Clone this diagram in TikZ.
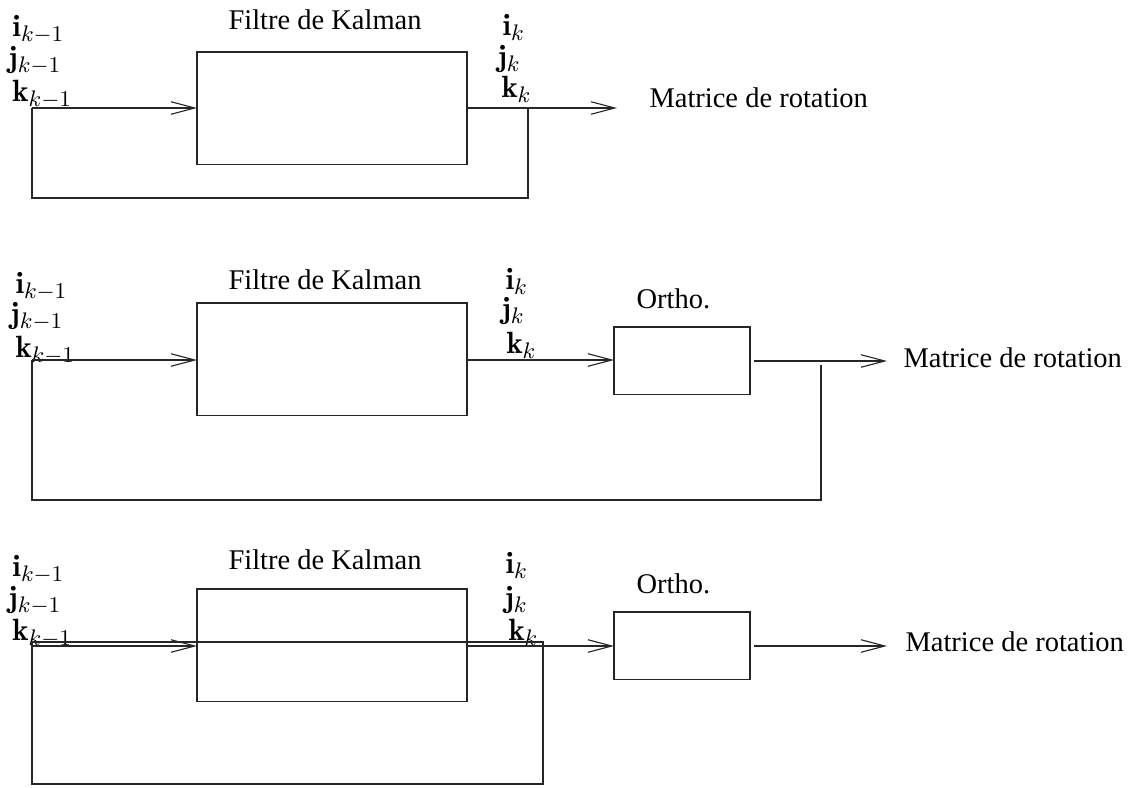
\documentclass[tikz,border=0pt]{standalone}
\usepackage{fontspec}
\newfontfamily\tnr{Liberation Serif}
\usetikzlibrary{arrows.meta}
\begin{document}
\begin{tikzpicture}[x=0.4pt,y=-0.4pt,
  ln/.style={line width=0.5pt,draw=black!85},
  arr/.style={ln,-{Straight Barb[length=9.5pt,width=5pt,line width=0.45pt]}},
  kbox/.style={draw=black!85,line width=0.5pt,rectangle,anchor=north west,inner sep=0,outer sep=0,minimum width=108pt,minimum height=45pt},
  obox/.style={draw=black!85,line width=0.5pt,rectangle,anchor=north west,inner sep=0,outer sep=0,minimum width=54.4pt,minimum height=27pt},
  txt/.style={anchor=base west,inner sep=0,font=\tnr\fontsize{11.4}{13}\selectfont},
  vec/.style={anchor=base west,inner sep=0,font=\fontsize{12.3}{14}\selectfont}]
\useasboundingbox (0,0) rectangle (1130,787);

% ---------------- Diagram 1 ----------------
\node[kbox] (kal1) at (197,52) {};
\node[txt] (kt1) at (228,29) {Filtre de Kalman};
\node[vec] (a1i) at (12,36) {$\mathbf{i}_{k-1}$};
\node[vec] (a1j) at (8,67) {$\mathbf{j}_{k-1}$};
\node[vec] (a1k) at (12,101) {$\mathbf{k}_{k-1}$};
\node[vec] (b1i) at (502,35) {$\mathbf{i}_{k}$};
\node[vec] (b1j) at (497,66) {$\mathbf{j}_{k}$};
\node[vec] (b1k) at (501,97) {$\mathbf{k}_{k}$};
\node[txt] (m1) at (649,107) {Matrice de rotation};
\coordinate (s1) at (32,108);
\coordinate (e1) at (617,108);
\coordinate (f1) at (528,108);
\coordinate (g1) at (528,198);
\coordinate (h1) at (32,198);
\draw[arr] (s1) -- (s1 -| kal1.west);
\draw[arr] (s1 -| kal1.east) -- (e1);
\draw[ln] (f1) -- (g1) -- (h1) -- (s1);

% ---------------- Diagram 2 ----------------
\node[kbox] (kal2) at (197,303) {};
\node[txt] (kt2) at (228,289) {Filtre de Kalman};
\node[obox] (or2) at (614,327) {};
\node[txt] (ot2) at (636,308) {Ortho.};
\node[vec] (a2i) at (15,293) {$\mathbf{i}_{k-1}$};
\node[vec] (a2j) at (10,323) {$\mathbf{j}_{k-1}$};
\node[vec] (a2k) at (15,357) {$\mathbf{k}_{k-1}$};
\node[vec] (b2i) at (505,289) {$\mathbf{i}_{k}$};
\node[vec] (b2j) at (501,318) {$\mathbf{j}_{k}$};
\node[vec] (b2k) at (506,353) {$\mathbf{k}_{k}$};
\node[txt] (m2) at (903,367) {Matrice de rotation};
\coordinate (s2) at (32,360);
\coordinate (o2) at (754,361);
\coordinate (e2) at (887,361);
\coordinate (f2) at (821,365);
\coordinate (g2) at (821,500);
\coordinate (h2) at (32,500);
\draw[arr] (s2) -- (s2 -| kal2.west);
\draw[arr] (s2 -| kal2.east) -- (s2 -| or2.west);
\draw[arr] (o2) -- (e2);
\draw[ln] (f2) -- (g2) -- (h2) -- (s2);

% ---------------- Diagram 3 ----------------
\node[kbox] (kal3) at (197,589) {};
\node[txt] (kt3) at (228,569) {Filtre de Kalman};
\node[obox] (or3) at (614,612) {};
\node[txt] (ot3) at (636,593) {Ortho.};
\node[vec] (a3i) at (12,576) {$\mathbf{i}_{k-1}$};
\node[vec] (a3j) at (8,607) {$\mathbf{j}_{k-1}$};
\node[vec] (a3k) at (12,640) {$\mathbf{k}_{k-1}$};
\node[vec] (b3i) at (505,573) {$\mathbf{i}_{k}$};
\node[vec] (b3j) at (504,607) {$\mathbf{j}_{k}$};
\node[vec] (b3k) at (508,640) {$\mathbf{k}_{k}$};
\node[txt] (m3) at (905,651) {Matrice de rotation};
\coordinate (u3) at (32,642);
\coordinate (s3) at (32,646);
\coordinate (f3) at (543,642);
\coordinate (g3) at (543,784);
\coordinate (h3) at (32,784);
\coordinate (o3) at (754,646);
\coordinate (e3) at (887,646);
\draw[arr] (s3) -- (s3 -| kal3.west);
\draw[arr] (s3 -| kal3.east) -- (s3 -| or3.west);
\draw[arr] (o3) -- (e3);
\draw[ln] (u3) -- (f3) -- (g3) -- (h3) -- (u3);
\end{tikzpicture}
\end{document}
